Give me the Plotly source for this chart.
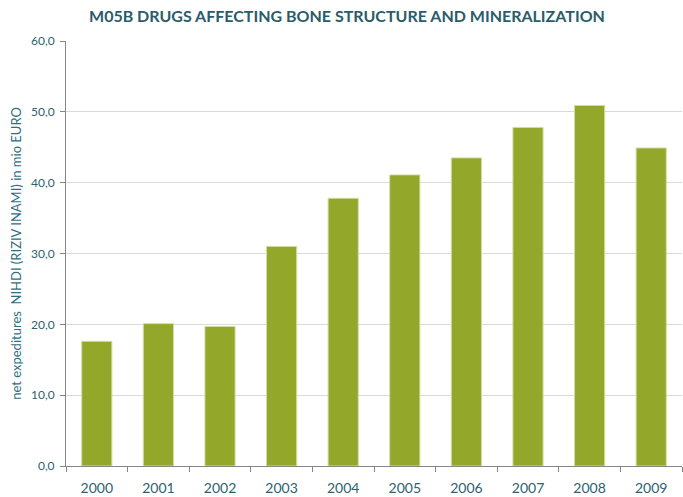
import plotly.graph_objects as go

years = ["2000", "2001", "2002", "2003", "2004", "2005", "2006", "2007", "2008", "2009"]
values = [17.6, 20.1, 19.7, 31.0, 37.8, 41.1, 43.5, 47.8, 50.9, 44.9]
yticks = [0, 10, 20, 30, 40, 50, 60]

title = "M05B DRUGS AFFECTING BONE STRUCTURE AND MINERALIZATION"
ytitle = "net expeditures  NIHDI (RIZIV INAMI) in mio EURO"

FONT = "Lato, Roboto, sans-serif"

fig = go.Figure(go.Bar(
    x=years, y=values,
    marker=dict(color="#93A72A", line=dict(color="#D4DDA0", width=1)),
))

fig.update_layout(
    width=683, height=497,
    margin=dict(l=66, r=1, t=41, b=31),
    paper_bgcolor="white", plot_bgcolor="white",
    bargap=0.51,
    showlegend=False,
    separators=",.",
    font=dict(family=FONT, color="#2E5F6E"),
    title=dict(text="<b>" + title + "</b>", x=0.508, xanchor="center", y=0.967, yanchor="middle",
               font=dict(size=16, color="#2A5C6A", family=FONT)),
)
fig.update_xaxes(
    type="category", showline=True, linecolor="#868686", linewidth=1,
    ticks="outside", tickson="boundaries", ticklen=5, tickcolor="#868686",
    ticklabelstandoff=9,
    tickfont=dict(size=14, family=FONT, color="#2E5F6E"),
    showgrid=False,
)
fig.update_yaxes(
    range=[0, 60], tickvals=yticks, tickformat=".1f",
    showline=True, linecolor="#868686", linewidth=1,
    ticks="outside", ticklen=5, tickcolor="#868686",
    ticklabelstandoff=3,
    gridcolor="#D9D9D9", gridwidth=1,
    tickfont=dict(size=12, family=FONT, color="#2E5F6E"),
    title=dict(text=ytitle, standoff=6, font=dict(size=13, family=FONT, color="#2E6F7E")),
)

fig.write_html("out.html")
